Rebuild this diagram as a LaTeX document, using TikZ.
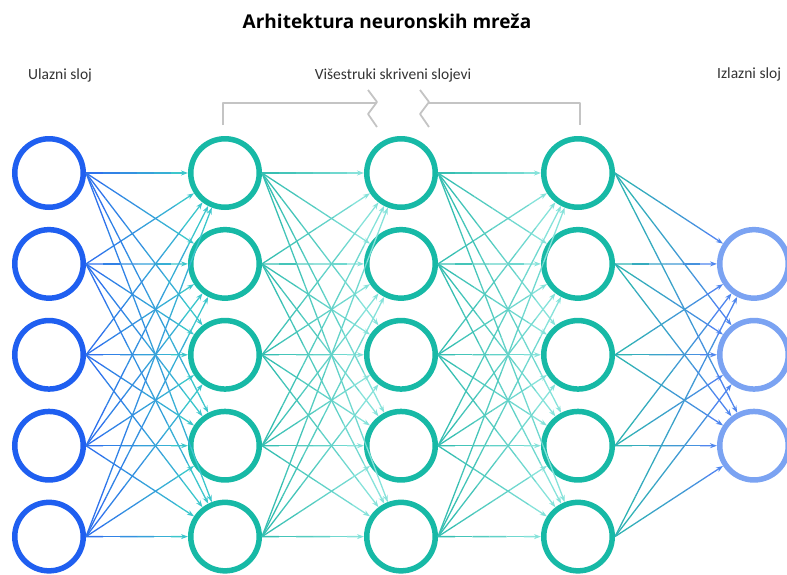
\documentclass[tikz,border=0pt]{standalone}
\usepackage{fontspec}
\setmainfont{Carlito}
\newfontfamily\titlefont{Open Sans}
\usetikzlibrary{arrows.meta,calc}
\definecolor{inblue}{HTML}{1F5FF0}
\definecolor{hidteal}{HTML}{17B9A6}
\definecolor{outblue}{HTML}{7BA3F2}
\definecolor{eInA}{HTML}{2E6BEF}
\definecolor{eInB}{HTML}{3CC6CC}
\definecolor{eHA}{HTML}{2FBCAE}
\definecolor{eHB}{HTML}{86E2DA}
\definecolor{eOA}{HTML}{2DB8AE}
\definecolor{eOB}{HTML}{4F86EE}
\definecolor{txtgray}{HTML}{333333}
\definecolor{brgray}{HTML}{C4C4C4}
\newcommand\gradedge[4]{%
  \coordinate (s) at (#1.east);
  \coordinate (t) at ($(#2)!37pt!(s)$);
  \foreach \q [evaluate=\q as \pa using {\q/6},
               evaluate=\q as \pb using {(\q+1)/6},
               evaluate=\q as \mx using {int(100-100*(\q+0.5)/6)}] in {0,...,4} {
    \draw[edgeline, color=#3!\mx!#4] ($(s)!\pa!(t)$) -- ($(s)!\pb!(t)$);
  }
  \draw[edgeline, color=#4, -{Stealth[length=7pt,width=5pt]}] ($(s)!0.8333!(t)$) -- (t);
}
\begin{document}
\begin{tikzpicture}[x=1pt,y=-1pt,
  neuron/.style={circle,draw,line width=5.5pt,minimum size=68.5pt,inner sep=0pt,fill=white},
  edgeline/.style={line width=1.3pt},
  lbl/.style={inner sep=0pt,text=txtgray,font=\fontsize{15.5}{18}\selectfont},
  bracketline/.style={draw=brgray,line width=1.8pt,line join=round}]
\useasboundingbox (0,0) rectangle (787,574);
\foreach \k in {1,...,5} {
  \pgfmathsetmacro\yy{173+90.9*(\k-1)}
  \node[neuron,draw=inblue] (i\k) at (49,\yy) {};
  \node[neuron,draw=hidteal] (a\k) at (225,\yy) {};
  \node[neuron,draw=hidteal] (b\k) at (401,\yy) {};
  \node[neuron,draw=hidteal] (c\k) at (578,\yy) {};
}
\foreach \k in {2,3,4} {
  \pgfmathsetmacro\yy{173+90.9*(\k-1)}
  \node[neuron,draw=outblue] (o\k) at (754,\yy) {};
}
\foreach \m in {1,...,5} {
  \foreach \n in {1,...,5} {
    \gradedge{i\m}{a\n}{eInA}{eInB}
    \gradedge{a\m}{b\n}{eHA}{eHB}
    \gradedge{b\m}{c\n}{eHA}{eHB}
  }
  \foreach \n in {2,3,4} {
    \gradedge{c\m}{o\n}{eOA}{eOB}
  }
}
\node[anchor=base,inner sep=0pt,font=\titlefont\bfseries\fontsize{19}{23}\selectfont] (title) at (387,28) {Arhitektura neuronskih mreža};
\node[lbl,anchor=base west] (lin) at (28,79) {Ulazni sloj};
\node[lbl,anchor=base] (lhid) at (393,79) {Višestruki skriveni slojevi};
\node[lbl,anchor=base west] (lout) at (717,78) {Izlazni sloj};
\draw[bracketline] (223,125) -- (223,103) -- (376,103);
\draw[bracketline] (368,90) -- (377,102) -- (368,114) -- (377,127);
\draw[bracketline] (420,90) -- (429,102) -- (420,114) -- (429,127);
\draw[bracketline] (428,103) -- (580,103) -- (580,125);
\end{tikzpicture}
\end{document}
